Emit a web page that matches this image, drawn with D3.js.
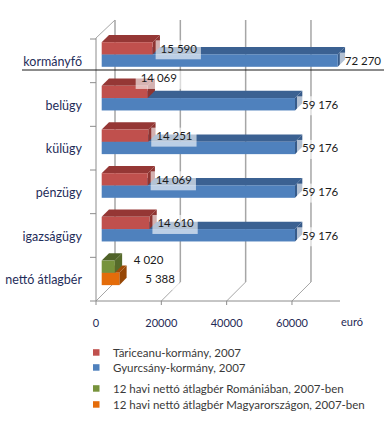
<!DOCTYPE html>
<html>
<head>
<meta charset="utf-8">
<script src="https://cdnjs.cloudflare.com/ajax/libs/d3/7.8.5/d3.min.js"></script>
<style>
  body { margin: 0; background: #fff; }
  svg text { font-family: Lato, "Noto Sans", sans-serif; }
</style>
</head>
<body>
<svg width="384" height="430"></svg>
<script>
// chart values
var categories = ['kormányfő', 'belügy', 'külügy', 'pénzügy', 'igazságügy', 'nettó átlagbér'];
var tariceanu = [15590, 14069, 14251, 14069, 14610, null];
var gyurcsany = [72270, 59176, 59176, 59176, 59176, null];
var wageRomania = [null, null, null, null, null, 4020];
var wageHungary = [null, null, null, null, null, 5388];
var tickValues = [0, 20000, 40000, 60000];
var unitLabel = 'euró';
var legendNames = ['Tăriceanu-kormány, 2007', 'Gyurcsány-kormány, 2007',
    '12 havi nettó átlagbér Romániában, 2007-ben', '12 havi nettó átlagbér Magyarországon, 2007-ben'];

var svg = d3.select('svg');

// series look: front / top / side colours, label offset
var seriesStyle = [
    {front: '#C0504D', top: '#953735', side: '#8E3431', dx: 8, dy: 0},
    {front: '#4F81BD', top: '#3B6192', side: '#375B8A', dx: 7, dy: 0},
    {front: '#77933C', top: '#4F6228', side: '#566B2B', dx: 19, dy: -7.5},
    {front: '#E46C0A', top: '#A14C06', side: '#974706', dx: 26, dy: 0}
];
var series = [tariceanu, gyurcsany, wageRomania, wageHungary];

// the belügy label of the first series was moved by hand in the original
var labelNudge = {'0-1': [-15, -14]};   // key: series-category

var depth = 19;      // wall depth (x right, y up)
var barShift = 5.7;  // bar front face distance from the front plane
var barDepth = 7.3;

var x = d3.scaleLinear().domain([0, 74700]).range([96, 340]);
var y = d3.scaleBand().domain(categories).range([39, 301]);

var grid = svg.append('g');

// back wall gridlines and floor diagonals
tickValues.forEach(function(v) {
    grid.append('line')
        .attr('x1', x(v) + depth).attr('x2', x(v) + depth)
        .attr('y1', 20).attr('y2', 301 - depth)
        .attr('stroke', '#a6a6a6').attr('stroke-width', 1.5);
    grid.append('line')
        .attr('x1', x(v)).attr('y1', 301)
        .attr('x2', x(v) + depth).attr('y2', 301 - depth)
        .attr('stroke', '#a6a6a6').attr('stroke-width', 1);
});

// left wall / front axes
grid.append('line').attr('x1', x(0)).attr('x2', x(0)).attr('y1', 38).attr('y2', 301)
    .attr('stroke', '#8c8c8c');
grid.append('line').attr('x1', x(0)).attr('y1', 38).attr('x2', x(0) + depth).attr('y2', 20)
    .attr('stroke', '#a6a6a6');
grid.append('line').attr('x1', x(0)).attr('x2', x.range()[1]).attr('y1', 301).attr('y2', 301)
    .attr('stroke', '#8c8c8c');

// category ticks
var bounds = categories.map(function(c) { return y(c); }).concat([y.range()[1]]);
grid.selectAll('.ytick').data(bounds).enter().append('line')
    .attr('x1', x(0) - 6).attr('x2', x(0))
    .attr('y1', function(d) { return d; }).attr('y2', function(d) { return d; })
    .attr('stroke', '#8c8c8c');
grid.selectAll('.xtick').data(tickValues).enter().append('line')
    .attr('x1', function(d) { return x(d); }).attr('x2', function(d) { return x(d); })
    .attr('y1', 301).attr('y2', 305)
    .attr('stroke', '#8c8c8c');

// tick labels
svg.selectAll('.xlab').data(tickValues).enter().append('text')
    .attr('x', function(d) { return x(d); })
    .attr('y', 323)
    .attr('dy', '0.35em')
    .attr('text-anchor', 'middle')
    .attr('font-size', '11px')
    .attr('fill', '#1F2A55')
    .text(function(d) { return d; });
svg.append('text')
    .attr('x', 341).attr('y', 322).attr('dy', '0.35em')
    .attr('font-size', '11px').attr('fill', '#1F2A55')
    .text(unitLabel);

// category labels
svg.selectAll('.cat').data(categories).enter().append('text')
    .attr('x', 82)
    .attr('y', function(d) { return y(d) + 22.5; })
    .attr('dy', '0.35em')
    .attr('text-anchor', 'end')
    .attr('font-size', '12.5px')
    .attr('fill', '#1F2D5A')
    .text(function(d) { return d; });

// build bar records: slot 0 = upper bar, slot 1 = lower bar
var bars = [];
categories.forEach(function(c, i) {
    series.forEach(function(s, si) {
        if (s[i] == null) return;
        bars.push({cat: c, ci: i, si: si, slot: si % 2, value: s[i]});
    });
});

var slotY = [[3.2, 15.4], [15.4, 27.8]];

function barGeom(d) {
    var x0 = x(0) + barShift;
    var x1 = x0 + x(d.value) - x(0);
    var yt = y(d.cat) + slotY[d.slot][0];
    var yb = y(d.cat) + slotY[d.slot][1];
    return {x0: x0, x1: x1, yt: yt, yb: yb};
}

var barG = svg.append('g');
// lower bars first so the upper ones sit on top
var ordered = bars.filter(function(d) { return d.slot === 1; })
    .concat(bars.filter(function(d) { return d.slot === 0; }));

ordered.forEach(function(d) {
    var g = barGeom(d), st = seriesStyle[d.si], k = barDepth;
    var gb = barG.append('g');
    gb.append('polygon')
        .attr('points', [[g.x0, g.yt], [g.x1, g.yt], [g.x1 + k, g.yt - k], [g.x0 + k, g.yt - k]].join(' '))
        .attr('fill', st.top);
    gb.append('polygon')
        .attr('points', [[g.x1, g.yt], [g.x1 + k, g.yt - k], [g.x1 + k, g.yb - k], [g.x1, g.yb]].join(' '))
        .attr('fill', st.side);
    gb.append('rect')
        .attr('x', g.x0).attr('y', g.yt)
        .attr('width', g.x1 - g.x0).attr('height', g.yb - g.yt)
        .attr('fill', st.front);
});

// data labels with pale boxes
var fmt = function(v) { return d3.format(',')(v).replace(/,/g, ' '); };
var labG = svg.append('g');
ordered.forEach(function(d) {
    var g = barGeom(d), st = seriesStyle[d.si];
    var nudge = labelNudge[d.si + '-' + d.ci] || [0, 0];
    var tx = g.x1 + st.dx + nudge[0];
    var ty = (g.yt + g.yb) / 2 + 0.5 + st.dy + nudge[1];
    var t = labG.append('text')
        .attr('x', tx).attr('y', ty).attr('dy', '0.35em')
        .attr('font-size', '11.5px')
        .attr('fill', '#1a1a1a')
        .text(fmt(d.value));
    var w = t.node().getComputedTextLength();
    labG.insert('rect', function() { return t.node(); })
        .attr('x', tx - 5).attr('y', ty - 8.5)
        .attr('width', w + 9).attr('height', 19)
        .attr('fill', 'rgba(255,255,255,0.62)');
});

// separator line under the prime minister row
svg.append('line')
    .attr('x1', 22).attr('x2', 384).attr('y1', 70).attr('y2', 70)
    .attr('stroke', '#1a1a1a').attr('stroke-width', 1);

// legend
var legendY = [352.5, 367.5, 388.5, 404.5];
var legend = svg.selectAll('.leg').data(legendNames).enter().append('g')
    .attr('transform', function(d, i) { return 'translate(' + [93, legendY[i]] + ')'; });
legend.append('rect')
    .attr('x', 0).attr('y', -3.3).attr('width', 6.5).attr('height', 6.5)
    .attr('fill', function(d, i) { return seriesStyle[i].front; });
legend.append('text')
    .attr('x', 20).attr('dy', '0.35em')
    .attr('font-size', '11.5px')
    .attr('fill', '#3a3a3a')
    .text(function(d) { return d; });
</script>
</body>
</html>
